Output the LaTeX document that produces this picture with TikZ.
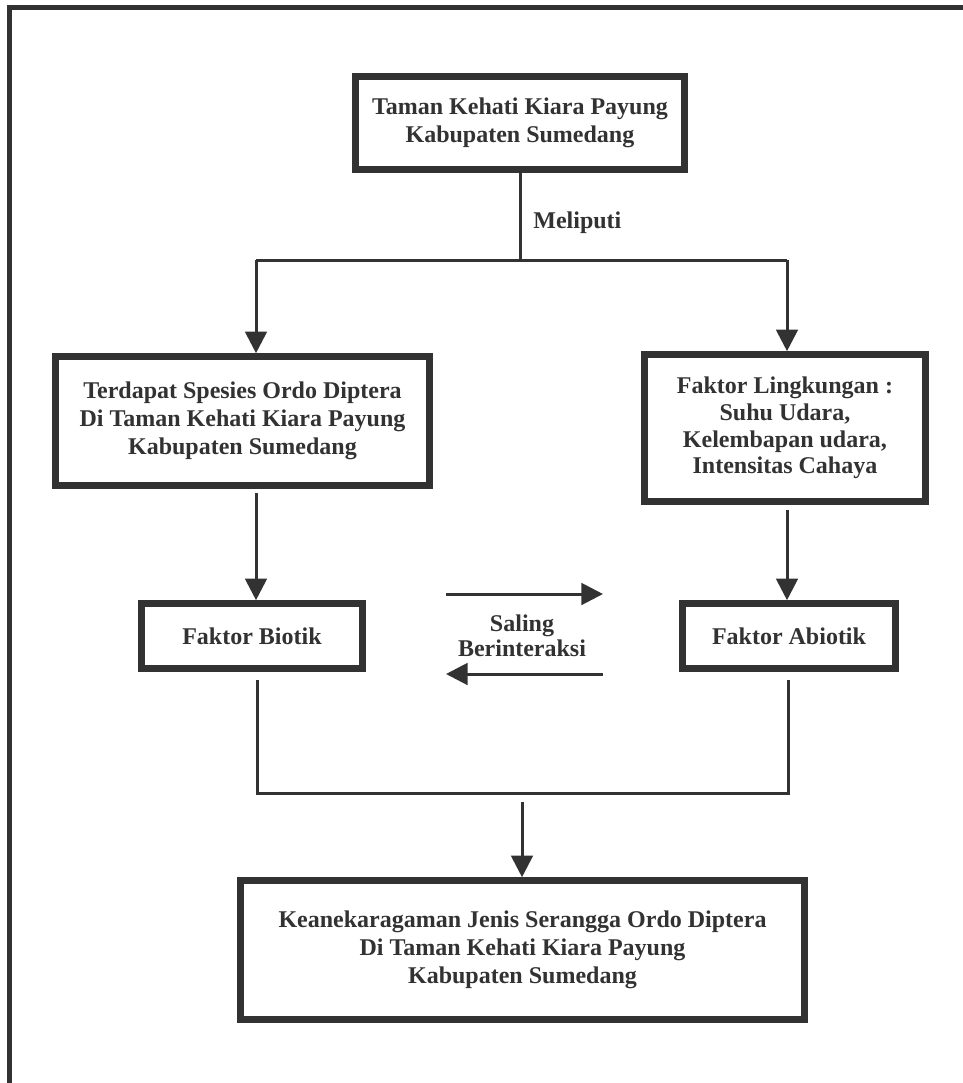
\documentclass[tikz,border=0pt]{standalone}
\usepackage{fontspec}
\setmainfont{Liberation Serif}
\usetikzlibrary{arrows.meta,positioning}
\definecolor{inkgray}{RGB}{50,50,50}

\begin{document}
\begin{tikzpicture}[
    x=0.5pt, y=-0.5pt,
    txt/.style={text=inkgray, font=\bfseries\fontsize{12}{14}\selectfont, align=center},
    box/.style={rectangle, draw=inkgray, line width=3.3pt, txt},
    line/.style={draw=inkgray, line width=1.5pt},
    arrow/.style={line, -{Triangle[length=10.8pt,width=10.8pt]}},
    frame/.style={draw=inkgray, line width=2.5pt}
]
    \useasboundingbox (0,0) rectangle (963,1083);

    % Frame
    \draw[frame] (963,7.5) -| (9.5,1083);

    % Top
    \node[box, minimum width=164.5pt, minimum height=46.5pt] (top) at (520,123)
        {Taman Kehati Kiara Payung\\Kabupaten Sumedang};

    % Second row
    \node[box, minimum width=187pt, minimum height=64.5pt] (diptera) at (242.5,421)
        {Terdapat Spesies Ordo Diptera\\Di Taman Kehati Kiara Payung\\Kabupaten Sumedang};
    \node[box, minimum width=140.5pt, minimum height=73.5pt,
          font=\bfseries\fontsize{12}{13.4}\selectfont] (lingkungan) at (785,428)
        {Faktor Lingkungan :\\Suhu Udara,\\Kelembapan udara,\\Intensitas Cahaya};

    % Factors
    \node[box, minimum width=110.5pt, minimum height=32.5pt] (biotik) at (252,636) {Faktor Biotik};
    \node[box, minimum width=106.5pt, minimum height=32.5pt] (abiotik) at (789,636) {Faktor Abiotik};

    % Result
    \node[box, minimum width=282pt, minimum height=69.5pt] (result) at (522.5,950)
        {Keanekaragaman Jenis Serangga Ordo Diptera\\Di Taman Kehati Kiara Payung\\Kabupaten Sumedang};

    % Split
    \coordinate (jn) at (520,260);
    \coordinate (jl) at (256,260);
    \coordinate (jr) at (787,260);
    \draw[line] (top.south) -- (jn);
    \draw[line] (jl) -- (jr);
    \draw[arrow] (jl) -- (jl |- diptera.north);
    \draw[arrow] (jr) -- (jr |- lingkungan.north);
    \node[txt, anchor=west, inner sep=0pt] (meliputi) at (533,223) {Meliputi};

    % Down to factors
    \draw[arrow, shorten <=2pt] (diptera.south -| jl) -- (jl |- biotik.north);
    \draw[arrow, shorten <=2.5pt] (lingkungan.south -| jr) -- (jr |- abiotik.north);

    % Interaction
    \coordinate (sa1) at (446,594);
    \coordinate (sa2) at (603,594);
    \coordinate (sb1) at (603,674);
    \coordinate (sb2) at (446,674);
    \draw[arrow] (sa1) -- (sa2);
    \draw[arrow] (sb1) -- (sb2);
    \node[txt, font=\bfseries\fontsize{12}{12.5}\selectfont] (saling) at (522,635.5) {Saling\\Berinteraksi};

    % Merge
    \coordinate (bl) at (257,793);
    \coordinate (br) at (788,793);
    \coordinate (bm) at (522,793);
    \draw[line, shorten <=4pt, shorten >=4pt] (biotik.south -| bl) -- (bl) -- (br) -- (abiotik.south -| br);
    \draw[arrow, shorten <=4.5pt] (bm) -- (bm |- result.north);
\end{tikzpicture}
\end{document}
